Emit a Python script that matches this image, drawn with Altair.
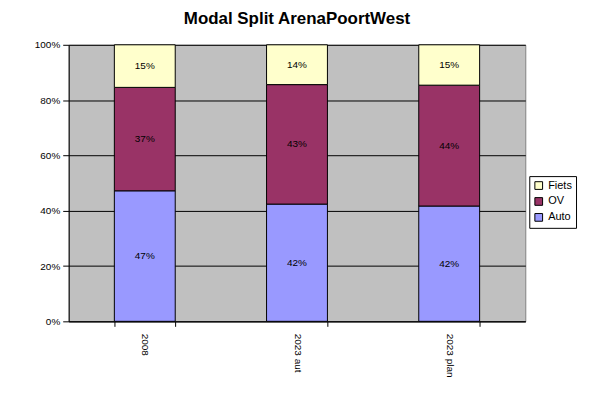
import altair as alt
import pandas as pd

years = ["2008", "2023 aut", "2023 plan"]
modes = ["Auto", "OV", "Fiets"]
auto = [47.2, 42.4, 41.7]
ov = [37.4, 43.2, 43.7]
fiets = [15.4, 14.4, 14.6]
mode_colors = {"Auto": "#9999FF", "OV": "#993366", "Fiets": "#FFFFCC"}
legend_order = ["Fiets", "OV", "Auto"]

rows = []
for i, yr in enumerate(years):
    for j, (m, vals) in enumerate(zip(modes, [auto, ov, fiets])):
        rows.append({"year": yr, "mode": m, "value": vals[i], "order": j})
df = pd.DataFrame(rows)

FONT = "Liberation Sans"

base = alt.Chart(df).transform_stack(
    stack="value",
    groupby=["year"],
    as_=["y0", "y1"],
    offset="normalize",
    sort=[alt.SortField("order", order="ascending")],
).transform_calculate(
    mid="(datum.y0 + datum.y1) / 2",
    label="format(round(datum.value), 'd') + '%'",
)

x = alt.X(
    "year:N",
    sort=years,
    title=None,
    scale=alt.Scale(paddingInner=0.6, paddingOuter=0.3),
    axis=alt.Axis(
        labelAngle=90,
        tickBand="extent",
        labelFont=FONT,
        labelFontSize=10,
        labelColor="black",
        domainColor="black",
        tickColor="black",
        tickSize=5,
        labelPadding=7,
    ),
)

bars = base.mark_bar(stroke="black", strokeWidth=1).encode(
    x=x,
    y=alt.Y(
        "y0:Q",
        title=None,
        scale=alt.Scale(domain=[0, 1]),
        axis=alt.Axis(
            format=".0%",
            values=[0, 0.2, 0.4, 0.6, 0.8, 1.0],
            grid=True,
            gridColor="black",
            gridOpacity=1,
            domainColor="black",
            tickColor="black",
            tickSize=6,
            labelFont=FONT,
            labelFontSize=10,
            labelColor="black",
            labelPadding=3,
        ),
    ),
    y2="y1:Q",
    color=alt.Color(
        "mode:N",
        scale=alt.Scale(domain=legend_order, range=[mode_colors[m] for m in legend_order]),
        legend=alt.Legend(
            title=None,
            orient="none",
            legendX=463,
            legendY=132,
            symbolType="square",
            symbolStrokeColor="black",
            symbolStrokeWidth=1,
            symbolSize=60,
            labelFont=FONT,
            labelFontSize=11,
            labelColor="black",
            strokeColor="black",
            fillColor="white",
            padding=4,
            rowPadding=3,
        ),
    ),
)

texts = base.mark_text(font=FONT, fontSize=10, color="black").encode(
    x=alt.X("year:N", sort=years),
    y="mid:Q",
    text="label:N",
)

chart = (
    alt.layer(bars, texts)
    .properties(
        width=459,
        height=278,
        padding={"left": 26, "top": 1, "right": 5, "bottom": 5},
        title=alt.TitleParams(
            "Modal Split ArenaPoortWest",
            font=FONT,
            fontSize=17,
            fontWeight="bold",
            anchor="middle",
            frame="group",
            offset=12,
        ),
    )
    .configure_view(fill="#C0C0C0", stroke="#808080")
)

chart.save("out.html", embed_options={"renderer": "svg", "actions": False})
